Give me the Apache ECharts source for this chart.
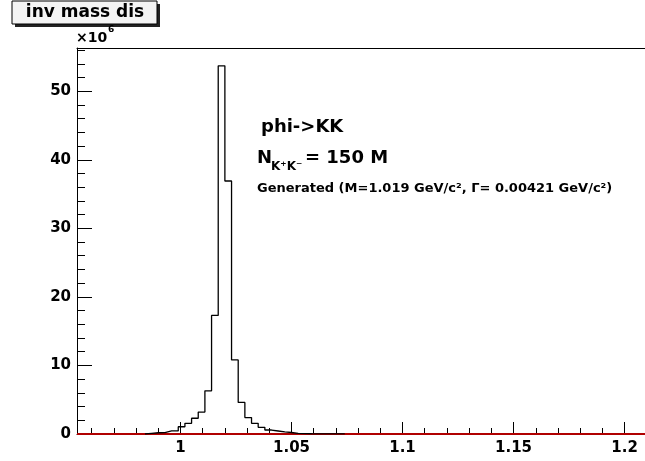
<!DOCTYPE html>
<html>
<head>
<meta charset="utf-8">
<script src="https://cdn.jsdelivr.net/npm/echarts@6/dist/echarts.min.js"></script>
<style>
html,body{margin:0;padding:0;background:#fff;}
#chart{width:645px;height:461px;}
</style>
</head>
<body>
<div id="chart"></div>
<script>
// ---- data (counts in units of 10^6) ----
var binLow = [0.984, 0.987, 0.990, 0.993, 0.996, 0.999, 1.002, 1.005, 1.008, 1.011, 1.014, 1.017, 1.020, 1.023, 1.026, 1.029, 1.032, 1.035, 1.038, 1.041, 1.044, 1.047, 1.050, 1.053, 1.056, 1.059, 1.062, 1.065, 1.068, 1.071];
var counts = [0.1, 0.18, 0.2, 0.45, 0.45, 1.06, 1.56, 2.3, 3.2, 6.3, 17.3, 53.7, 36.9, 10.8, 4.6, 2.4, 1.56, 0.98, 0.58, 0.44, 0.3, 0.22, 0.1, 0.06, 0.04, 0.03, 0.03, 0.02, 0.02, 0.02];
var binWidth = 0.003;
var xMin = 0.9534, xMax = 1.2092;
var yMin = 0, yMax = 56.3;
var xMajorTicks = [1, 1.05, 1.1, 1.15, 1.2];
var xMinorTicks = [0.96, 0.97, 0.98, 0.99, 1.01, 1.02, 1.03, 1.04, 1.06, 1.07, 1.08, 1.09, 1.11, 1.12, 1.13, 1.14, 1.16, 1.17, 1.18, 1.19];
var yMajorTicks = [0, 10, 20, 30, 40, 50];
var yMinorTicks = [2, 4, 6, 8, 12, 14, 16, 18, 22, 24, 26, 28, 32, 34, 36, 38, 42, 44, 46, 48, 52, 54, 56];
var fitLine = [[xMin, 0], [xMax, 0]];

// build step outline of histogram
var histPts = [[binLow[0], 0]];
for (var i = 0; i < binLow.length; i++) histPts.push([binLow[i], counts[i]]);
var lastEdge = binLow[binLow.length - 1] + binWidth;
histPts.push([lastEdge, counts[counts.length - 1]]);
histPts.push([lastEdge, 0]);

var FONT = 'DejaVu Sans';
var chart = echarts.init(document.getElementById('chart'), null, {renderer: 'canvas'});
var lblStyle = {fontFamily: FONT, fontWeight: 'bold', fontSize: 15, color: '#000'};
var gridRect = {left: 77, top: 48, right: 0, bottom: 27, containLabel: false};

var option = {
  animation: false,
  backgroundColor: '#fff',
  grid: [Object.assign({}, gridRect), Object.assign({}, gridRect)],
  xAxis: [
    {type: 'value', gridIndex: 0, min: xMin, max: xMax, position: 'bottom',
      axisLine: {show: true, onZero: false, lineStyle: {color: '#000', width: 1}},
      axisTick: {show: true, inside: true, length: 12, customValues: xMajorTicks, lineStyle: {color: '#000', width: 1}},
      axisLabel: Object.assign({show: true, margin: 7, customValues: xMajorTicks,
        formatter: function (v) { return String(v); }}, lblStyle),
      splitLine: {show: false}},
    {type: 'value', gridIndex: 0, min: xMin, max: xMax, position: 'top',
      axisLine: {show: true, onZero: false, lineStyle: {color: '#000', width: 1}},
      axisTick: {show: false}, axisLabel: {show: false}, splitLine: {show: false}},
    {type: 'value', gridIndex: 1, min: xMin, max: xMax, position: 'bottom',
      axisLine: {show: false, onZero: false},
      axisTick: {show: true, inside: true, length: 6, customValues: xMinorTicks, lineStyle: {color: '#000', width: 1}},
      axisLabel: {show: false}, splitLine: {show: false}}
  ],
  yAxis: [
    {type: 'value', gridIndex: 0, min: yMin, max: yMax, position: 'left',
      axisLine: {show: true, onZero: false, lineStyle: {color: '#000', width: 1}},
      axisTick: {show: true, inside: true, length: 15, customValues: yMajorTicks, lineStyle: {color: '#000', width: 1}},
      axisLabel: Object.assign({show: true, margin: 6, customValues: yMajorTicks,
        formatter: function (v) { return String(v); }}, lblStyle),
      splitLine: {show: false}},
    {type: 'value', gridIndex: 1, min: yMin, max: yMax, position: 'left',
      axisLine: {show: false, onZero: false},
      axisTick: {show: true, inside: true, length: 8, customValues: yMinorTicks, lineStyle: {color: '#000', width: 1}},
      axisLabel: {show: false}, splitLine: {show: false}}
  ],
  series: [
    {type: 'line', name: 'fit', data: fitLine, xAxisIndex: 0, yAxisIndex: 0, z: 3,
      showSymbol: false, symbol: 'none', lineStyle: {color: '#b00000', width: 2}, silent: true},
    {type: 'line', name: 'inv mass dis', data: histPts, step: 'end', xAxisIndex: 0, yAxisIndex: 0, z: 4,
      showSymbol: false, symbol: 'none', lineStyle: {color: '#000', width: 1.3}, silent: true}
  ],
  graphic: [
    {type: 'rect', shape: {x: 15, y: 4, width: 145, height: 23}, style: {fill: '#222'}, z: 10},
    {type: 'rect', shape: {x: 12, y: 1, width: 145, height: 23}, style: {fill: '#f4f4f4', stroke: '#000', lineWidth: 1}, z: 11},
    {type: 'text', x: 85, y: 13, z: 12, style: {text: 'inv mass dis', fontFamily: FONT, fontWeight: 'bold', fontSize: 17, fill: '#000', align: 'center', verticalAlign: 'middle'}},
    {type: 'text', x: 76, y: 38, z: 12, style: {text: '×10', fontFamily: FONT, fontWeight: 'bold', fontSize: 14, fill: '#000', align: 'left', verticalAlign: 'middle'}},
    {type: 'text', x: 108, y: 30, z: 12, style: {text: '6', fontFamily: FONT, fontWeight: 'bold', fontSize: 9, fill: '#000', align: 'left', verticalAlign: 'middle'}},
    {type: 'text', x: 261, y: 127, z: 12, style: {text: 'phi->KK', fontFamily: FONT, fontWeight: 'bold', fontSize: 18, fill: '#000', align: 'left', verticalAlign: 'middle'}},
    {type: 'text', x: 257, y: 158, z: 12, style: {text: 'N', fontFamily: FONT, fontWeight: 'bold', fontSize: 18, fill: '#000', align: 'left', verticalAlign: 'middle'}},
    {type: 'text', x: 271, y: 167, z: 12, style: {text: 'K⁺K⁻', fontFamily: FONT, fontWeight: 'bold', fontSize: 12, fill: '#000', align: 'left', verticalAlign: 'middle'}},
    {type: 'text', x: 305, y: 158, z: 12, style: {text: '= 150 M', fontFamily: FONT, fontWeight: 'bold', fontSize: 18, fill: '#000', align: 'left', verticalAlign: 'middle'}},
    {type: 'text', x: 257, y: 189, z: 12, style: {text: 'Generated (M=1.019 GeV/c², Γ= 0.00421 GeV/c²)', fontFamily: FONT, fontWeight: 'bold', fontSize: 13, fill: '#000', align: 'left', verticalAlign: 'middle'}}
  ]
};
chart.setOption(option);
</script>
</body>
</html>
